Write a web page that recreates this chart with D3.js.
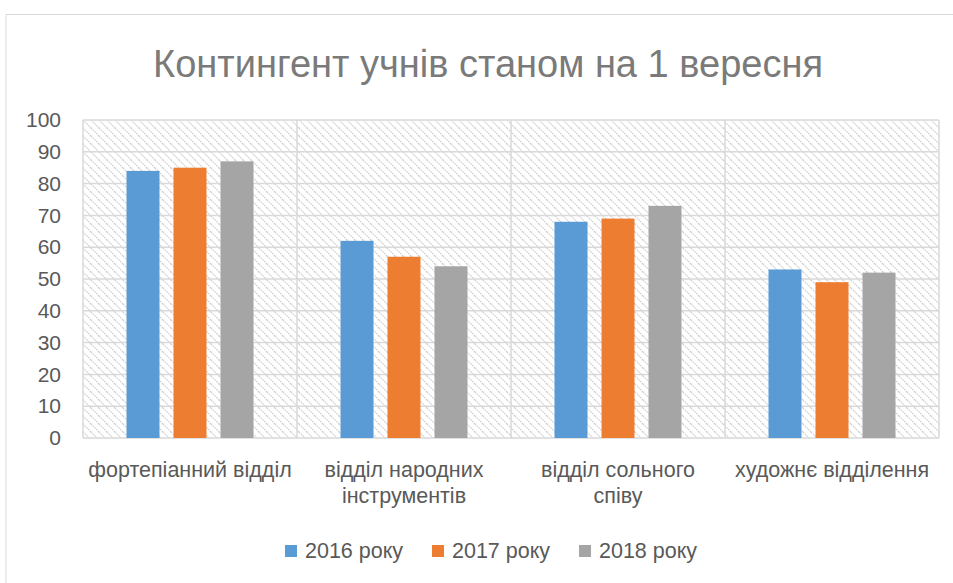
<!DOCTYPE html>
<html>
<head>
<meta charset="utf-8">
<script src="https://cdn.jsdelivr.net/npm/d3@7"></script>
<style>
body{margin:0;background:#fff;}
text{font-family:"Liberation Sans",sans-serif;}
</style>
</head>
<body>
<svg id="chart" width="953" height="583"></svg>
<script>
var categories = [["фортепіанний відділ"], ["відділ народних", "інструментів"], ["відділ сольного", "співу"], ["художнє відділення"]];
var series = ["2016 року", "2017 року", "2018 року"];
var v2016 = [84, 62, 68, 53];
var v2017 = [85, 57, 69, 49];
var v2018 = [87, 54, 73, 52];
var yTicks = [0, 10, 20, 30, 40, 50, 60, 70, 80, 90, 100];
var colors = ["#5b9bd5", "#ed7d31", "#a5a5a5"];

var svg = d3.select('#chart');
var margin = {left:83, right:14, top:120, bottom:145};
var width = +svg.attr('width'), height = +svg.attr('height');
var innerwidth = width - margin.left - margin.right;
var innerheight = height - margin.top - margin.bottom;

// frame
svg.append('path').attr('d','M6,583V14.5H953').attr('fill','none').attr('stroke','#d9d9d9').attr('stroke-width',1);

// hatch pattern
var defs = svg.append('defs');
var pat = defs.append('pattern').attr('id','hatch').attr('patternUnits','userSpaceOnUse')
	.attr('width',8).attr('height',8);
pat.append('rect').attr('width',8).attr('height',8).attr('fill','#fff');
pat.append('path').attr('d','M0,0L8,8M-4,4L4,12M4,-4L12,4')
	.attr('stroke','#d2d2d2').attr('stroke-width',1.4).attr('stroke-dasharray','1.5,1');

svg.append('text').attr('x',488).attr('y',77).attr('text-anchor','middle')
	.attr('font-size',38).attr('fill','#7a7a7a').text('Контингент учнів станом на 1 вересня');

var g = svg.append('g').attr('transform',`translate(${margin.left},${margin.top})`);

var data = categories.map((c,i) => ({cat:i, vals:[v2016[i], v2017[i], v2018[i]]}));

var x0 = d3.scaleBand().domain(d3.range(categories.length)).range([0,innerwidth]);
var yscale = d3.scaleLinear().domain([0,100]).range([innerheight,0]);

g.append('rect').attr('width',innerwidth).attr('height',innerheight).attr('fill','url(#hatch)');

// gridlines
g.append('g').selectAll('line').data(yTicks).enter().append('line')
	.attr('x1',0).attr('x2',innerwidth)
	.attr('y1',d => yscale(d)).attr('y2',d => yscale(d))
	.attr('stroke','#d9d9d9').attr('stroke-width',1.5);
g.append('g').selectAll('line').data(d3.range(categories.length+1)).enter().append('line')
	.attr('x1',d => d*x0.step()).attr('x2',d => d*x0.step())
	.attr('y1',0).attr('y2',innerheight)
	.attr('stroke','#d9d9d9').attr('stroke-width',1.5);

// bars
var pitch = 47, bw = 33;
var groups = g.append('g').selectAll('g').data(data).enter().append('g')
	.attr('transform',d => `translate(${x0(d.cat)+x0.bandwidth()/2},0)`);
groups.selectAll('rect').data(d => d.vals).enter().append('rect')
	.attr('x',(d,i) => (i-1)*pitch - bw/2)
	.attr('width',bw)
	.attr('y',d => yscale(d))
	.attr('height',d => innerheight - yscale(d))
	.attr('fill',(d,i) => colors[i]);

// y axis
var yax = g.append('g').call(d3.axisLeft(yscale).tickValues(yTicks).tickSize(0).tickPadding(22));
yax.select('.domain').remove();
yax.selectAll('text').attr('font-size',21).attr('fill','#595959')
	.style('font-family','"Liberation Sans",sans-serif');

// x labels
var xl = g.append('g').selectAll('text').data(categories).enter().append('text')
	.attr('x',(d,i) => x0(i)+x0.bandwidth()/2)
	.attr('y',innerheight+39)
	.attr('text-anchor','middle').attr('font-size',21.5).attr('fill','#595959');
xl.selectAll('tspan').data(d => d).enter().append('tspan')
	.attr('x',function(){return d3.select(this.parentNode).attr('x');})
	.attr('dy',(d,i) => i ? 26 : 0).text(d => d);

// legend
var legendX = [285, 432, 579];
var lg = svg.append('g').selectAll('g').data(series).enter().append('g')
	.attr('transform',(d,i) => `translate(${legendX[i]},558)`);
lg.append('rect').attr('x',0).attr('y',-13).attr('width',12).attr('height',12).attr('fill',(d,i) => colors[i]);
lg.append('text').attr('x',20).attr('y',0).attr('font-size',21.5).attr('fill','#595959').text(d => d);
</script>
</body>
</html>
